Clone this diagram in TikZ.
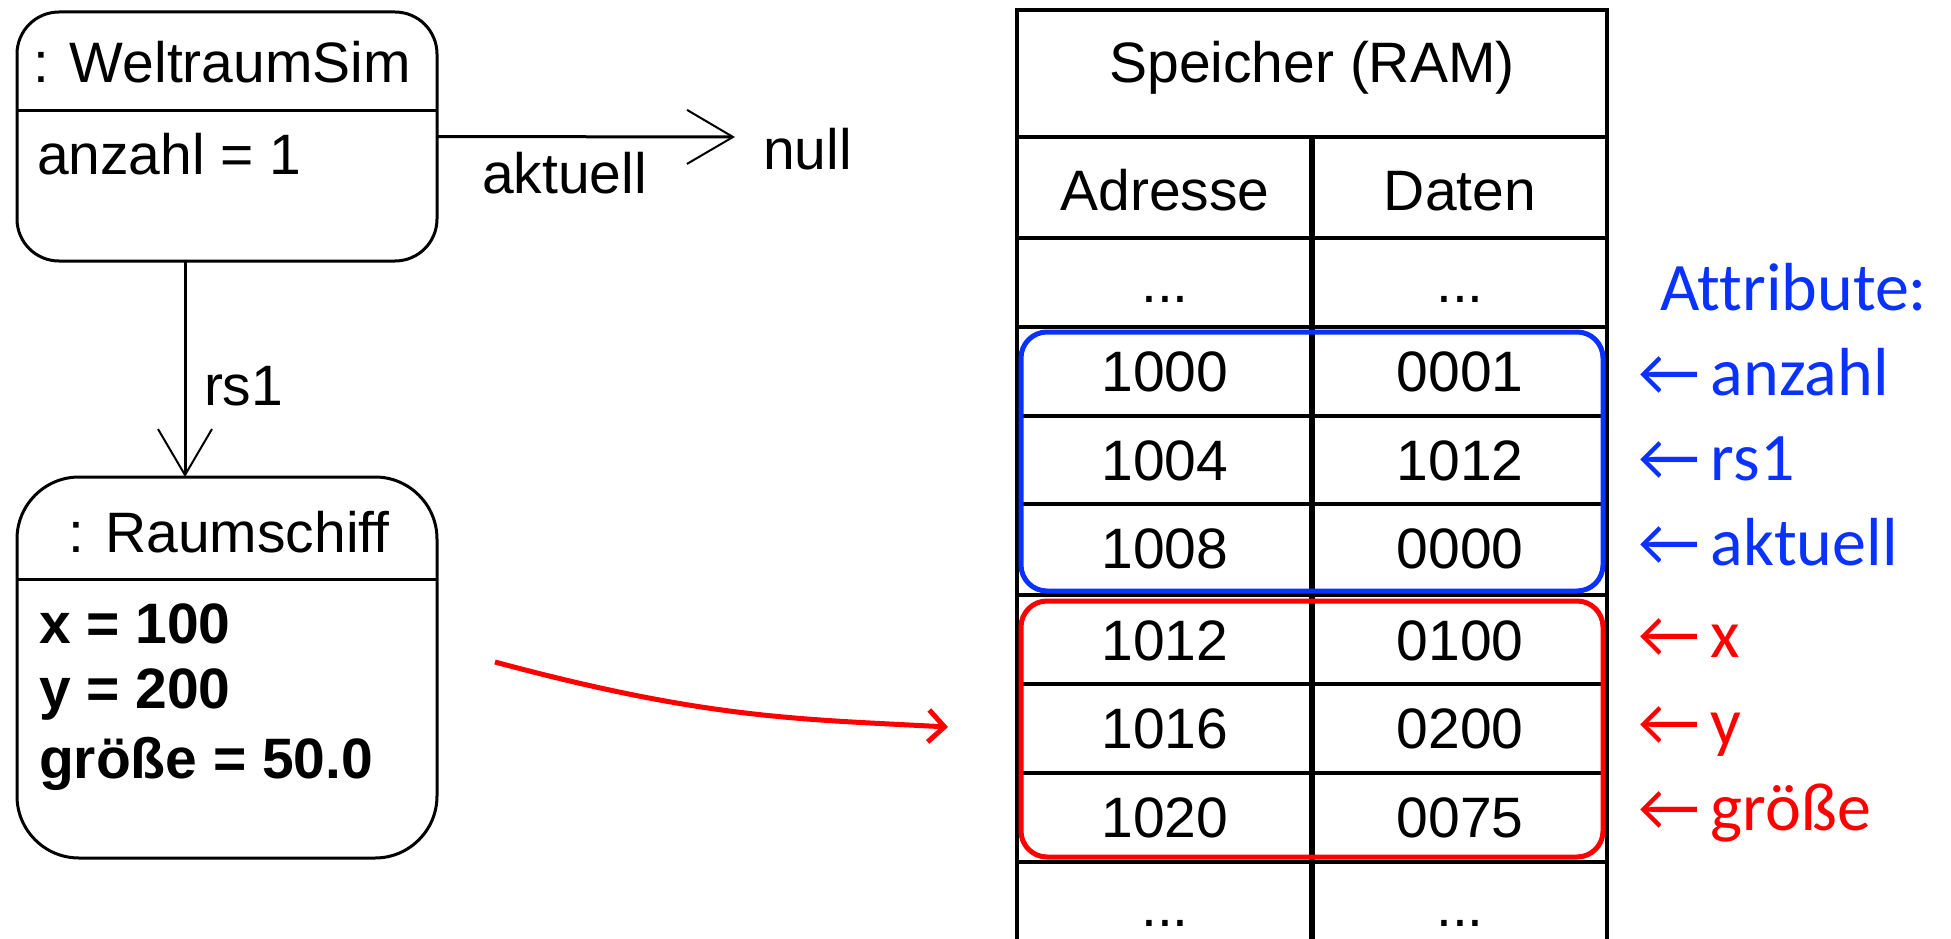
\documentclass[tikz,border=0pt]{standalone}
\usepackage{fontspec}
\setmainfont{Liberation Sans}
\newfontfamily\carl[Ligatures={NoCommon,NoRare,NoContextual}]{Carlito}
\usetikzlibrary{arrows.meta}
\definecolor{attrblue}{RGB}{10,50,255}
\definecolor{attrred}{RGB}{255,0,0}
\newcommand\threedots{...}
\begin{document}
\begin{tikzpicture}[x=1pt,y=-1pt,
  txt/.style={inner sep=0pt,outer sep=0pt,font=\fontsize{57}{68}\selectfont},
  boldtxt/.style={inner sep=0pt,outer sep=0pt,font=\fontsize{57}{68}\selectfont\bfseries},
  lbl/.style={inner sep=0pt,outer sep=0pt,font=\carl\fontsize{68}{80}\selectfont},
  objbox/.style={draw,line width=3pt,inner sep=0pt,outer sep=0pt,anchor=north west},
  tline/.style={line width=4pt},
  assoc/.style={line width=3pt,-{Straight Barb[length=46pt,width=54pt,line width=2pt]}},
  memarrow/.style={attrred,line width=5pt,-{Straight Barb[length=16pt,width=32pt]}},
  group/.style={draw,line width=5pt,rounded corners=26pt,inner sep=0pt,outer sep=0pt,anchor=north west}
]
\useasboundingbox (0,0) rectangle (1951,939);
\fill[white] (0,0) rectangle (1951,939);

% --- object WeltraumSim
\node[objbox,rounded corners=42pt,minimum width=420pt,minimum height=249pt] (ws) at (17,12) {};
\draw[line width=3pt] (17,111) -- (437,111);
\node[txt,anchor=base] (wsname) at (222,83) {: WeltraumSim};
\node[txt,anchor=base west] (wsattr) at (37,175) {anzahl = 1};

% --- object Raumschiff
\node[objbox,rounded corners=62pt,minimum width=420pt,minimum height=381pt] (rs) at (17,477) {};
\draw[line width=3pt] (17,579) -- (437,579);
\node[txt,anchor=base] (rsname) at (229,552) {: Raumschiff};
\node[boldtxt,anchor=base west] (rsx) at (39,643) {x = 100};
\node[boldtxt,anchor=base west] (rsy) at (39,708) {y = 200};
\node[boldtxt,anchor=base west] (rsg) at (39,778) {größe = 50.0};

% --- links
\coordinate (nulltip) at (735,137);
\node[txt,anchor=base west] (null) at (763,169) {null};
\draw[assoc] (ws.east) -- (nulltip);
\node[txt,anchor=base west] (aktlbl) at (482,193) {aktuell};
\coordinate (rsline) at (185,0);
\draw[assoc] (rsline |- ws.south) -- (rsline |- rs.north);
\node[txt,anchor=base west] (rslbl) at (204,405) {rs1};

% --- red mapping arrow
\coordinate (ms) at (495,662);
\coordinate (me) at (948,727);
\draw[memarrow] (ms) .. controls (707,719) and (798,719) .. (me);

% --- memory table
\draw[tline] (1017,941) -- (1017,10) -- (1607,10) -- (1607,941);
\foreach \yy in {137,238,327,416,504,595,684,773,862}
  \draw[tline] (1017,\yy) -- (1607,\yy);
\draw[line width=5.5pt] (1312,137) -- (1312,941);

\node[txt,anchor=base] (ram) at (1312,83) {Speicher (RAM)};
\node[txt,anchor=base] (hadr) at (1165,210) {Adresse};
\node[txt,anchor=base] (hdat) at (1460,210) {Daten};
\foreach \a/\d/\yy [count=\i] in {\threedots/\threedots/302,1000/0001/391,1004/1012/480,1008/0000/568,1012/0100/660,1016/0200/748,1020/0075/837,\threedots/\threedots/926}{
  \node[txt,anchor=base] (adr\i) at (1165,\yy) {\a};
  \node[txt,anchor=base] (dat\i) at (1460,\yy) {\d};
}

% --- groups
\node[group,draw=attrblue,minimum width=582pt,minimum height=259pt] (blue) at (1021,332) {};
\node[group,draw=attrred,minimum width=582pt,minimum height=256pt] (red) at (1021,601) {};

% --- labels
\node[lbl,text=attrblue,anchor=base west] (attr) at (1660,310) {Attribute:};
\node[lbl,text=attrblue,anchor=base west] (l1) at (1638,395) {←\,anzahl};
\node[lbl,text=attrblue,anchor=base west] (l2) at (1638,480) {←\,rs1};
\node[lbl,text=attrblue,anchor=base west] (l3) at (1638,565) {←\,aktuell};
\node[lbl,text=attrred,anchor=base west] (l4) at (1638,657) {←\,x};
\node[lbl,text=attrred,anchor=base west] (l5) at (1638,745) {←\,y};
\node[lbl,text=attrred,anchor=base west] (l6) at (1638,830) {←\,größe};
\end{tikzpicture}
\end{document}
